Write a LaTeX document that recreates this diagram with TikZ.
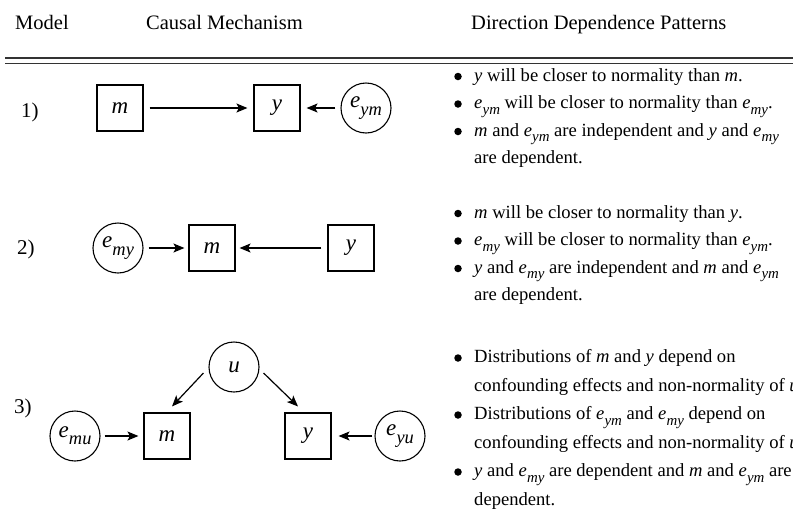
\documentclass[tikz,border=0pt]{standalone}
\usepackage{fontspec}
\usepackage{graphicx}
\setmainfont{Liberation Serif}
\usetikzlibrary{arrows.meta}
\newcommand\ev[1]{\textit{e}\kern0.01em\raisebox{-0.32em}{\scalebox{0.8}{\textit{#1}}}}
\begin{document}
\begin{tikzpicture}[x=1pt,y=-1pt,
  hdr/.style={anchor=base west,inner sep=0pt,font=\fontsize{20.5}{24}\selectfont},
  txt/.style={anchor=base west,inner sep=0pt,font=\fontsize{18.6}{23}\selectfont},
  lbl/.style={anchor=base west,inner sep=0pt,font=\fontsize{21}{24}\selectfont},
  bul/.style={circle,fill=black,inner sep=0pt,minimum size=7.5pt},
  vbox/.style={draw,line width=1.1pt,minimum size=46pt,inner sep=0pt,font=\fontsize{23}{26}\selectfont},
  vcirc/.style={draw,circle,line width=1.1pt,minimum size=50pt,inner sep=0pt,font=\fontsize{23}{26}\selectfont},
  arr/.style={line width=1.2pt,-{Stealth[length=11pt,width=9pt,inset=2.5pt]}},
  rule/.style={line width=1.6pt,black!80}]
\useasboundingbox (0,0) rectangle (793,520);
\clip (0,0) rectangle (793,520);
% header
\node[hdr] (h1) at (15,29) {Model};
\node[hdr] (h2) at (146,29) {Causal Mechanism};
\node[hdr] (h3) at (471,29) {Direction Dependence Patterns};
\coordinate (rl1) at (5,58); \coordinate (rr1) at (793,58);
\coordinate (rl2) at (5,63.5); \coordinate (rr2) at (793,63.5);
\draw[rule] (rl1) -- (rr1);
\draw[rule] (rl2) -- (rr2);
% model 1
\node[lbl] (l1) at (21,117) {1)};
\node[vbox] (m1) at (120,108) {\textit{m}};
\node[vbox] (y1) at (277,108) {\textit{y}};
\node[vcirc] (e1) at (366,108) {\ev{ym}};
\draw[arr,shorten <=6pt,shorten >=6pt] (m1) -- (y1);
\draw[arr,shorten <=5pt,shorten >=6pt] (e1) -- (y1);
% model 2
\node[lbl] (l2) at (17,254) {2)};
\node[vcirc] (e2) at (118,248) {\ev{my}};
\node[vbox] (m2) at (212,248) {\textit{m}};
\node[vbox] (y2) at (351,248) {\textit{y}};
\draw[arr,shorten <=5pt,shorten >=4pt] (e2) -- (m2);
\draw[arr,shorten <=6pt,shorten >=4pt] (y2) -- (m2);
% model 3
\node[lbl] (l3) at (14,413) {3)};
\node[vcirc] (u3) at (234,367) {\textit{u}};
\node[vcirc] (e3a) at (75,436) {\ev{mu}};
\node[vbox] (m3) at (167,436) {\textit{m}};
\node[vbox] (y3) at (308,436) {\textit{y}};
\node[vcirc] (e3b) at (400,436) {\ev{yu}};
\draw[arr] ([shift={(-5,6)}]u3.west) -- ([shift={(5,-6)}]m3.north);
\draw[arr] ([shift={(4,6)}]u3.east) -- ([shift={(-10,-6)}]y3.north);
\draw[arr,shorten <=4pt,shorten >=5pt] (e3a) -- (m3);
\draw[arr,shorten <=2pt,shorten >=7pt] (e3b) -- (y3);
% text model 1
\node[bul] (b1a) at (458,76.5) {};
\node[txt] (t1a) at (474,81) {\textit{y} will be closer to normality than \textit{m}.};
\node[bul] (b1b) at (458,104) {};
\node[txt] (t1b) at (474,108.5) {\ev{ym} will be closer to normality than \ev{my}.};
\node[bul] (b1c) at (458,131.5) {};
\node[txt] (t1c) at (474,136) {\textit{m} and \ev{ym} are independent and \textit{y} and \ev{my}};
\node[txt] (t1d) at (474,163.5) {are dependent.};
% text model 2
\node[bul] (b2a) at (458,213.5) {};
\node[txt] (t2a) at (474,218) {\textit{m} will be closer to normality than \textit{y}.};
\node[bul] (b2b) at (458,241) {};
\node[txt] (t2b) at (474,245.5) {\ev{my} will be closer to normality than \ev{ym}.};
\node[bul] (b2c) at (458,268.5) {};
\node[txt] (t2c) at (474,273) {\textit{y} and \ev{my} are independent and \textit{m} and \ev{ym}};
\node[txt] (t2d) at (474,300.5) {are dependent.};
% text model 3
\node[bul] (b3a) at (458,358) {};
\node[txt] (t3a) at (474,362.5) {Distributions of \textit{m} and \textit{y} depend on};
\node[txt] (t3b) at (474,391) {confounding effects and non-normality of \textit{u}};
\node[bul] (b3c) at (458,415) {};
\node[txt] (t3c) at (474,419.5) {Distributions of \ev{ym} and \ev{my} depend on};
\node[txt] (t3d) at (474,448) {confounding effects and non-normality of \textit{u}};
\node[bul] (b3e) at (458,472) {};
\node[txt] (t3e) at (474,476.5) {\textit{y} and \ev{my} are dependent and \textit{m} and \ev{ym} are};
\node[txt] (t3f) at (474,505) {dependent.};
\end{tikzpicture}
\end{document}
